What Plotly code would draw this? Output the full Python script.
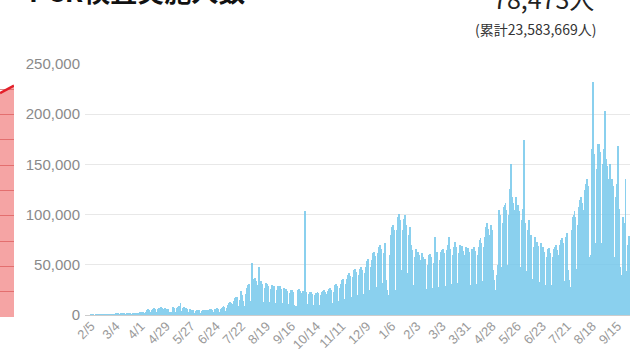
import pandas as pd
import plotly.graph_objects as go

# Daily PCR tests (thousands), one row per week starting Wed 2020-02-05
weeks = [
    [0.1, 0.1, 0.1, 0, 0, 0.1, 0.1],
    [0.2, 0.2, 0.2, 0.1, 0.1, 0.2, 0.3],
    [0.4, 0.5, 0.5, 0.2, 0.1, 0.4, 0.6],
    [0.8, 0.9, 0.8, 0.4, 0.2, 0.7, 0.9],
    [1.2, 1.3, 1.1, 0.6, 0.3, 1.0, 1.3],
    [1.5, 1.6, 1.4, 0.7, 0.4, 1.2, 1.5],
    [1.6, 1.5, 1.4, 0.6, 0.4, 1.4, 1.7],
    [2.0, 2.2, 2.1, 1.0, 0.6, 1.9, 2.5],
    [3.0, 3.4, 3.2, 1.5, 0.9, 2.8, 4.0],
    [5.0, 5.5, 5.2, 2.5, 1.5, 4.5, 6.0],
    [6.5, 7.0, 6.2, 3.2, 1.8, 5.5, 6.8],
    [7.2, 7.5, 6.8, 3.5, 2.0, 6.0, 7.0],
    [4.5, 6.0, 5.5, 2.8, 1.8, 3.0, 2.5],
    [5.0, 7.5, 7.0, 3.4, 2.0, 6.5, 8.0],
    [8.5, 9.0, 11.5, 4.0, 2.2, 6.5, 7.5],
    [7.0, 6.5, 6.0, 3.0, 1.8, 5.0, 5.5],
    [5.0, 5.2, 4.8, 2.4, 1.5, 4.2, 5.0],
    [5.0, 5.3, 4.9, 2.4, 1.5, 4.3, 5.1],
    [5.2, 5.4, 5.0, 2.5, 1.6, 4.5, 5.3],
    [5.5, 5.6, 5.3, 2.7, 1.7, 4.7, 5.8],
    [6.2, 6.5, 6.0, 3.0, 2.0, 5.5, 7.0],
    [8.0, 8.5, 8.0, 4.0, 2.5, 7.0, 9.5],
    [11.5, 12.5, 12.0, 6.0, 3.5, 10.5, 13.5],
    [17.0, 18.0, 17.5, 9.0, 5.0, 15.0, 20.0],
    [24.0, 20.0, 14.0, 9.0, 6.0, 21.0, 27.0],
    [30.0, 31.0, 29.0, 14.0, 8.0, 52.0, 33.0],
    [36.0, 37.0, 34.0, 16.0, 10.0, 30.0, 48.0],
    [33.0, 34.0, 31.0, 13.0, 8.0, 27.0, 32.0],
    [30.0, 31.0, 29.0, 13.0, 8.0, 26.0, 30.0],
    [28.0, 29.0, 27.0, 12.0, 7.0, 25.0, 29.0],
    [28.0, 28.5, 26.0, 12.0, 7.0, 24.0, 27.0],
    [25.0, 26.0, 24.0, 11.0, 6.5, 22.0, 25.0],
    [24.0, 25.0, 23.0, 10.0, 6.0, 9.0, 8.0],
    [25.0, 26.0, 24.0, 11.0, 6.5, 22.0, 24.0],
    [24.0, 104.0, 23.0, 10.5, 6.0, 21.0, 23.0],
    [22.0, 22.5, 21.0, 10.0, 6.0, 20.0, 22.0],
    [22.0, 23.0, 21.5, 10.0, 6.0, 20.0, 22.5],
    [24.0, 24.5, 23.0, 11.0, 6.5, 21.0, 24.0],
    [26.0, 27.0, 25.0, 12.0, 7.0, 23.0, 15.0],
    [30.0, 31.0, 29.0, 14.0, 8.0, 27.0, 31.0],
    [35.0, 36.0, 34.0, 16.0, 9.0, 31.0, 36.0],
    [40.0, 42.0, 39.0, 18.0, 10.0, 15.0, 38.0],
    [45.0, 46.0, 43.0, 20.0, 11.0, 40.0, 46.0],
    [47.0, 48.0, 45.0, 21.0, 12.0, 42.0, 48.0],
    [54.0, 56.0, 52.0, 25.0, 14.0, 48.0, 55.0],
    [62.0, 63.0, 59.0, 28.0, 16.0, 55.0, 62.0],
    [68.0, 70.0, 66.0, 32.0, 18.0, 62.0, 72.0],
    [58.0, 35.0, 25.0, 20.0, 15.0, 60.0, 80.0],
    [88.0, 90.0, 85.0, 40.0, 25.0, 20.0, 85.0],
    [98.0, 101.0, 95.0, 45.0, 28.0, 85.0, 96.0],
    [95.0, 100.0, 90.0, 42.0, 26.0, 80.0, 88.0],
    [70.0, 68.0, 65.0, 30.0, 18.0, 58.0, 66.0],
    [62.0, 63.0, 60.0, 28.0, 16.0, 55.0, 62.0],
    [58.0, 30.0, 56.0, 26.0, 15.0, 50.0, 58.0],
    [60.0, 61.0, 58.0, 27.0, 15.0, 52.0, 78.0],
    [62.0, 63.0, 60.0, 28.0, 16.0, 55.0, 63.0],
    [65.0, 66.0, 62.0, 29.0, 17.0, 57.0, 65.0],
    [70.0, 78.0, 66.0, 31.0, 18.0, 60.0, 68.0],
    [72.0, 73.0, 68.0, 32.0, 18.0, 62.0, 70.0],
    [68.0, 69.0, 64.0, 30.0, 17.0, 60.0, 68.0],
    [66.0, 67.0, 63.0, 30.0, 17.0, 58.0, 66.0],
    [66.0, 68.0, 64.0, 31.0, 18.0, 60.0, 68.0],
    [75.0, 77.0, 72.0, 34.0, 20.0, 68.0, 78.0],
    [88.0, 92.0, 86.0, 40.0, 23.0, 80.0, 90.0],
    [85.0, 45.0, 35.0, 25.0, 18.0, 40.0, 50.0],
    [40.0, 105.0, 100.0, 48.0, 27.0, 92.0, 108.0],
    [110.0, 112.0, 105.0, 50.0, 28.0, 100.0, 126.0],
    [150.0, 118.0, 112.0, 52.0, 30.0, 105.0, 118.0],
    [108.0, 110.0, 104.0, 48.0, 27.0, 95.0, 106.0],
    [98.0, 174.0, 92.0, 44.0, 25.0, 85.0, 95.0],
    [78.0, 80.0, 75.0, 36.0, 20.0, 68.0, 78.0],
    [72.0, 73.0, 69.0, 33.0, 19.0, 64.0, 72.0],
    [66.0, 68.0, 63.0, 30.0, 17.0, 58.0, 66.0],
    [65.0, 67.0, 62.0, 30.0, 17.0, 58.0, 66.0],
    [68.0, 70.0, 65.0, 31.0, 18.0, 60.0, 70.0],
    [75.0, 77.0, 72.0, 34.0, 20.0, 66.0, 78.0],
    [82.0, 45.0, 35.0, 28.0, 22.0, 85.0, 98.0],
    [100.0, 104.0, 98.0, 46.0, 26.0, 90.0, 108.0],
    [115.0, 118.0, 112.0, 52.0, 30.0, 105.0, 125.0],
    [130.0, 135.0, 128.0, 58.0, 34.0, 60.0, 150.0],
    [165.0, 232.0, 160.0, 72.0, 40.0, 145.0, 170.0],
    [168.0, 170.0, 162.0, 72.0, 40.0, 150.0, 165.0],
    [203.0, 155.0, 148.0, 66.0, 37.0, 135.0, 150.0],
    [132.0, 135.0, 128.0, 58.0, 33.0, 118.0, 130.0],
    [112.0, 168.0, 106.0, 48.0, 27.0, 40.0, 98.0],
    [92.0, 60.0, 135.0, 44.0, 25.0, 70.0, 78.473],
]
tests_k = [v for w in weeks for v in w]
dates = pd.date_range("2020-02-05", periods=len(tests_k), freq="D")
tests = [v * 1000 for v in tests_k]

tick_dates = pd.date_range("2020-02-05", "2021-09-15", freq="28D")
tick_labels = ["2/5", "3/4", "4/1", "4/29", "5/27", "6/24", "7/22", "8/19", "9/16",
               "10/14", "11/11", "12/9", "1/6", "2/3", "3/3", "3/31", "4/28", "5/26",
               "6/23", "7/21", "8/18", "9/15"]

# neighbouring (cropped) red chart on the left edge
red_x = [0, 0.5, 1]
red_y = [88.5, 90.0, 91.5]

W, H = 632, 349
fig = go.Figure()
fig.add_trace(go.Bar(x=dates, y=tests, marker=dict(color="#76c8ec", line=dict(width=0)),
                     opacity=0.85, xaxis="x", yaxis="y", showlegend=False))
fig.add_trace(go.Scatter(x=red_x, y=red_y, mode="lines", fill="tozeroy",
                         line=dict(color="#e3202a", width=2.5),
                         fillcolor="rgba(236,90,90,0.55)", xaxis="x2", yaxis="y2",
                         showlegend=False))

fig.update_layout(
    width=W, height=H,
    margin=dict(l=0, r=0, t=0, b=0, autoexpand=False),
    paper_bgcolor="white", plot_bgcolor="white",
    bargap=0,
    xaxis=dict(domain=[85 / W, 630 / W], type="date", automargin=False,
               range=["2020-01-29 08:00", "2021-09-29 00:00"],
               tickvals=tick_dates, ticktext=tick_labels, tickangle=-45,
               tickfont=dict(family="Liberation Sans, Arial", size=13, color="#9a9a9a"),
               showgrid=False, zeroline=False, showline=False, ticks=""),
    yaxis=dict(domain=[(H - 315) / H, (H - 64) / H], range=[0, 250000], automargin=False,
               tickvals=[0, 50000, 100000, 150000, 200000, 250000],
               ticktext=["0", "50,000", "100,000", "150,000", "200,000", "250,000"],
               tickfont=dict(family="Liberation Sans, Arial", size=15, color="#8a8a8a"),
               gridcolor="#e8e8e8", gridwidth=1, zeroline=True, zerolinecolor="#cccccc",
               zerolinewidth=1, ticks="", ticklabelstandoff=4),
    xaxis2=dict(domain=[0, 14 / W], range=[0, 1], visible=False, automargin=False),
    yaxis2=dict(domain=[(H - 317) / H, (H - 64) / H], range=[0, 100], anchor="x2",
                automargin=False,
                showticklabels=False, dtick=10, gridcolor="#d88a8a", zeroline=False,
                showline=False, ticks=""),
    annotations=[
        dict(text="<b>PCR検査実施人数</b>", x=27 / W, y=(H - 12) / H, xref="paper", yref="paper",
             xanchor="left", yanchor="bottom", showarrow=False,
             font=dict(family="Noto Sans CJK JP", size=27, color="#111111")),
        dict(text="78,473人", x=596 / W, y=(H - 18) / H, xref="paper", yref="paper",
             xanchor="right", yanchor="bottom", showarrow=False,
             font=dict(family="Noto Sans CJK JP", size=25, color="#222222")),
        dict(text="(累計23,583,669人)", x=598 / W, y=(H - 29) / H, xref="paper", yref="paper",
             xanchor="right", yanchor="middle", showarrow=False,
             font=dict(family="Noto Sans CJK JP", size=14, color="#333333")),
    ],
)

fig.write_html("out.html")
